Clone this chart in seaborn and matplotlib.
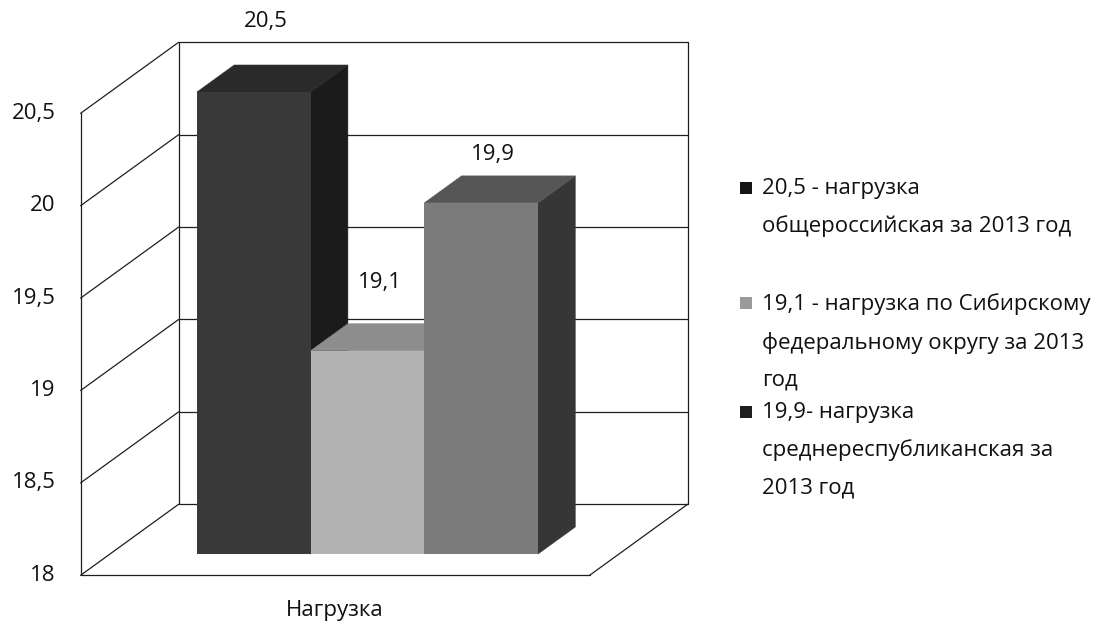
import numpy as np
import pandas as pd
import seaborn as sns
import matplotlib.pyplot as plt
from matplotlib.patches import Polygon, Rectangle

# DATA
category = "Нагрузка"
values = [20.5, 19.1, 19.9]
value_labels = ["20,5", "19,1", "19,9"]
series = ["20,5 - нагрузка\nобщероссийская за 2013 год",
          "19,1 - нагрузка по Сибирскому\nфедеральному округу за 2013\nгод",
          "19,9- нагрузка\nсреднереспубликанская за\n2013 год"]
y_ticks = [18, 18.5, 19, 19.5, 20, 20.5]
y_tick_labels = ["18", "18,5", "19", "19,5", "20", "20,5"]

# STYLE
front_colors = ["#393939", "#b3b3b3", "#7b7b7b"]
top_colors = ["#2a2a2a", "#8d8d8d", "#565656"]
side_colors = ["#1b1b1b", "#6b6b6b", "#363636"]
legend_colors = ["#151515", "#9a9a9a", "#1e1e1e"]
label_lift = [70, 68, 48]        # px above bar front top
legend_rows = [188, 303, 412]    # px from top, first line of each entry
FS = 16

sns.set_theme(style="white")
plt.rcParams['font.family'] = ['Open Sans', 'DejaVu Sans']

W, H = 11.12, 6.30
fig = plt.figure(figsize=(W, H), dpi=100)
# axes = plane of the bar fronts
ax = fig.add_axes([110 / 1112, 76 / 630, 509 / 1112, 462 / 630])

df = pd.DataFrame({"cat": [category] * len(values), "series": series, "value": values})
sns.barplot(data=df, x="cat", y="value", hue="series", palette=front_colors,
            saturation=1, width=0.8, legend=False, ax=ax, edgecolor="none")
ax.set_xlim(-0.604, 0.590)
ax.set_ylim(y_ticks[0], y_ticks[-1])
ax.axis("off")

# DEPTH (front wall t=0, back wall t=1)
DX, DY = 0.98, 0.71
t0, t1 = 0.30, 0.68
xmin, xmax = ax.get_xlim()
ymin, ymax = ax.get_ylim()
pos = ax.get_position()
ux = (xmax - xmin) / (pos.width * W)
uy = (ymax - ymin) / (pos.height * H)

def shift(t):
    return (t - t0) * DX * ux, (t - t0) * DY * uy

fx, fy = shift(0)
bx, by = shift(1)
line_kw = dict(color="#1e1e1e", lw=0.9, clip_on=False, zorder=1)

# back wall grid + left wall diagonals
for v in y_ticks:
    ax.plot([xmin + bx, xmax + bx], [v + by, v + by], **line_kw)
    ax.plot([xmin + fx, xmin + bx], [v + fy, v + by], **line_kw)
ax.plot([xmin + bx] * 2, [ymin + by, ymax + by], **line_kw)
ax.plot([xmax + bx] * 2, [ymin + by, ymax + by], **line_kw)
ax.plot([xmin + fx] * 2, [ymin + fy, ymax + fy], **line_kw)
# floor
ax.plot([xmin + fx, xmax + fx], [ymin + fy] * 2, **line_kw)
ax.plot([xmax + fx, xmax + bx], [ymin + fy, ymin + by], **line_kw)

# 3D faces of the bars
sx = (t1 - t0) * DX * ux
sy = (t1 - t0) * DY * uy
for i, p in enumerate(ax.patches[:len(values)]):
    x0 = p.get_x()
    x1 = x0 + p.get_width()
    h = p.get_height()
    side = [(x1, ymin), (x1, h), (x1 + sx, h + sy), (x1 + sx, ymin + sy)]
    top = [(x0, h), (x1, h), (x1 + sx, h + sy), (x0 + sx, h + sy)]
    ax.add_patch(Polygon(side, closed=True, fc=side_colors[i], ec=side_colors[i], lw=0.4,
                         clip_on=False, zorder=3 + 3 * i))
    ax.add_patch(Polygon(top, closed=True, fc=top_colors[i], ec=top_colors[i], lw=0.4,
                         clip_on=False, zorder=4 + 3 * i))
    p.set_zorder(5 + 3 * i)
    ax.annotate(value_labels[i], (x0 + p.get_width() / 2, h),
                xytext=(12, label_lift[i]), textcoords="offset pixels",
                ha="center", va="center", fontsize=FS, color="#111111")

# y tick labels on the front edge
for v, lab in zip(y_ticks, y_tick_labels):
    ax.annotate(lab, (xmin + fx, v + fy), xytext=(-25, 0), textcoords="offset pixels",
                ha="right", va="center", fontsize=FS, color="#111111", annotation_clip=False)

# category label
ax.annotate(category, ((xmin + xmax) / 2 + fx, ymin + fy), xytext=(0, -35),
            textcoords="offset pixels", ha="center", va="center", fontsize=FS,
            color="#111111", annotation_clip=False)

# legend
for lab, c, row in zip(series, legend_colors, legend_rows):
    fig.patches.append(Rectangle((740 / 1112, 1 - (row + 6) / 630), 12 / 1112, 12 / 630,
                                 transform=fig.transFigure, fc=c, ec="none"))
    fig.text(762 / 1112, 1 - (row - 10) / 630, lab, ha="left", va="top",
             fontsize=FS, linespacing=1.98, color="#111111")

fig.savefig("out.png", dpi=100)
